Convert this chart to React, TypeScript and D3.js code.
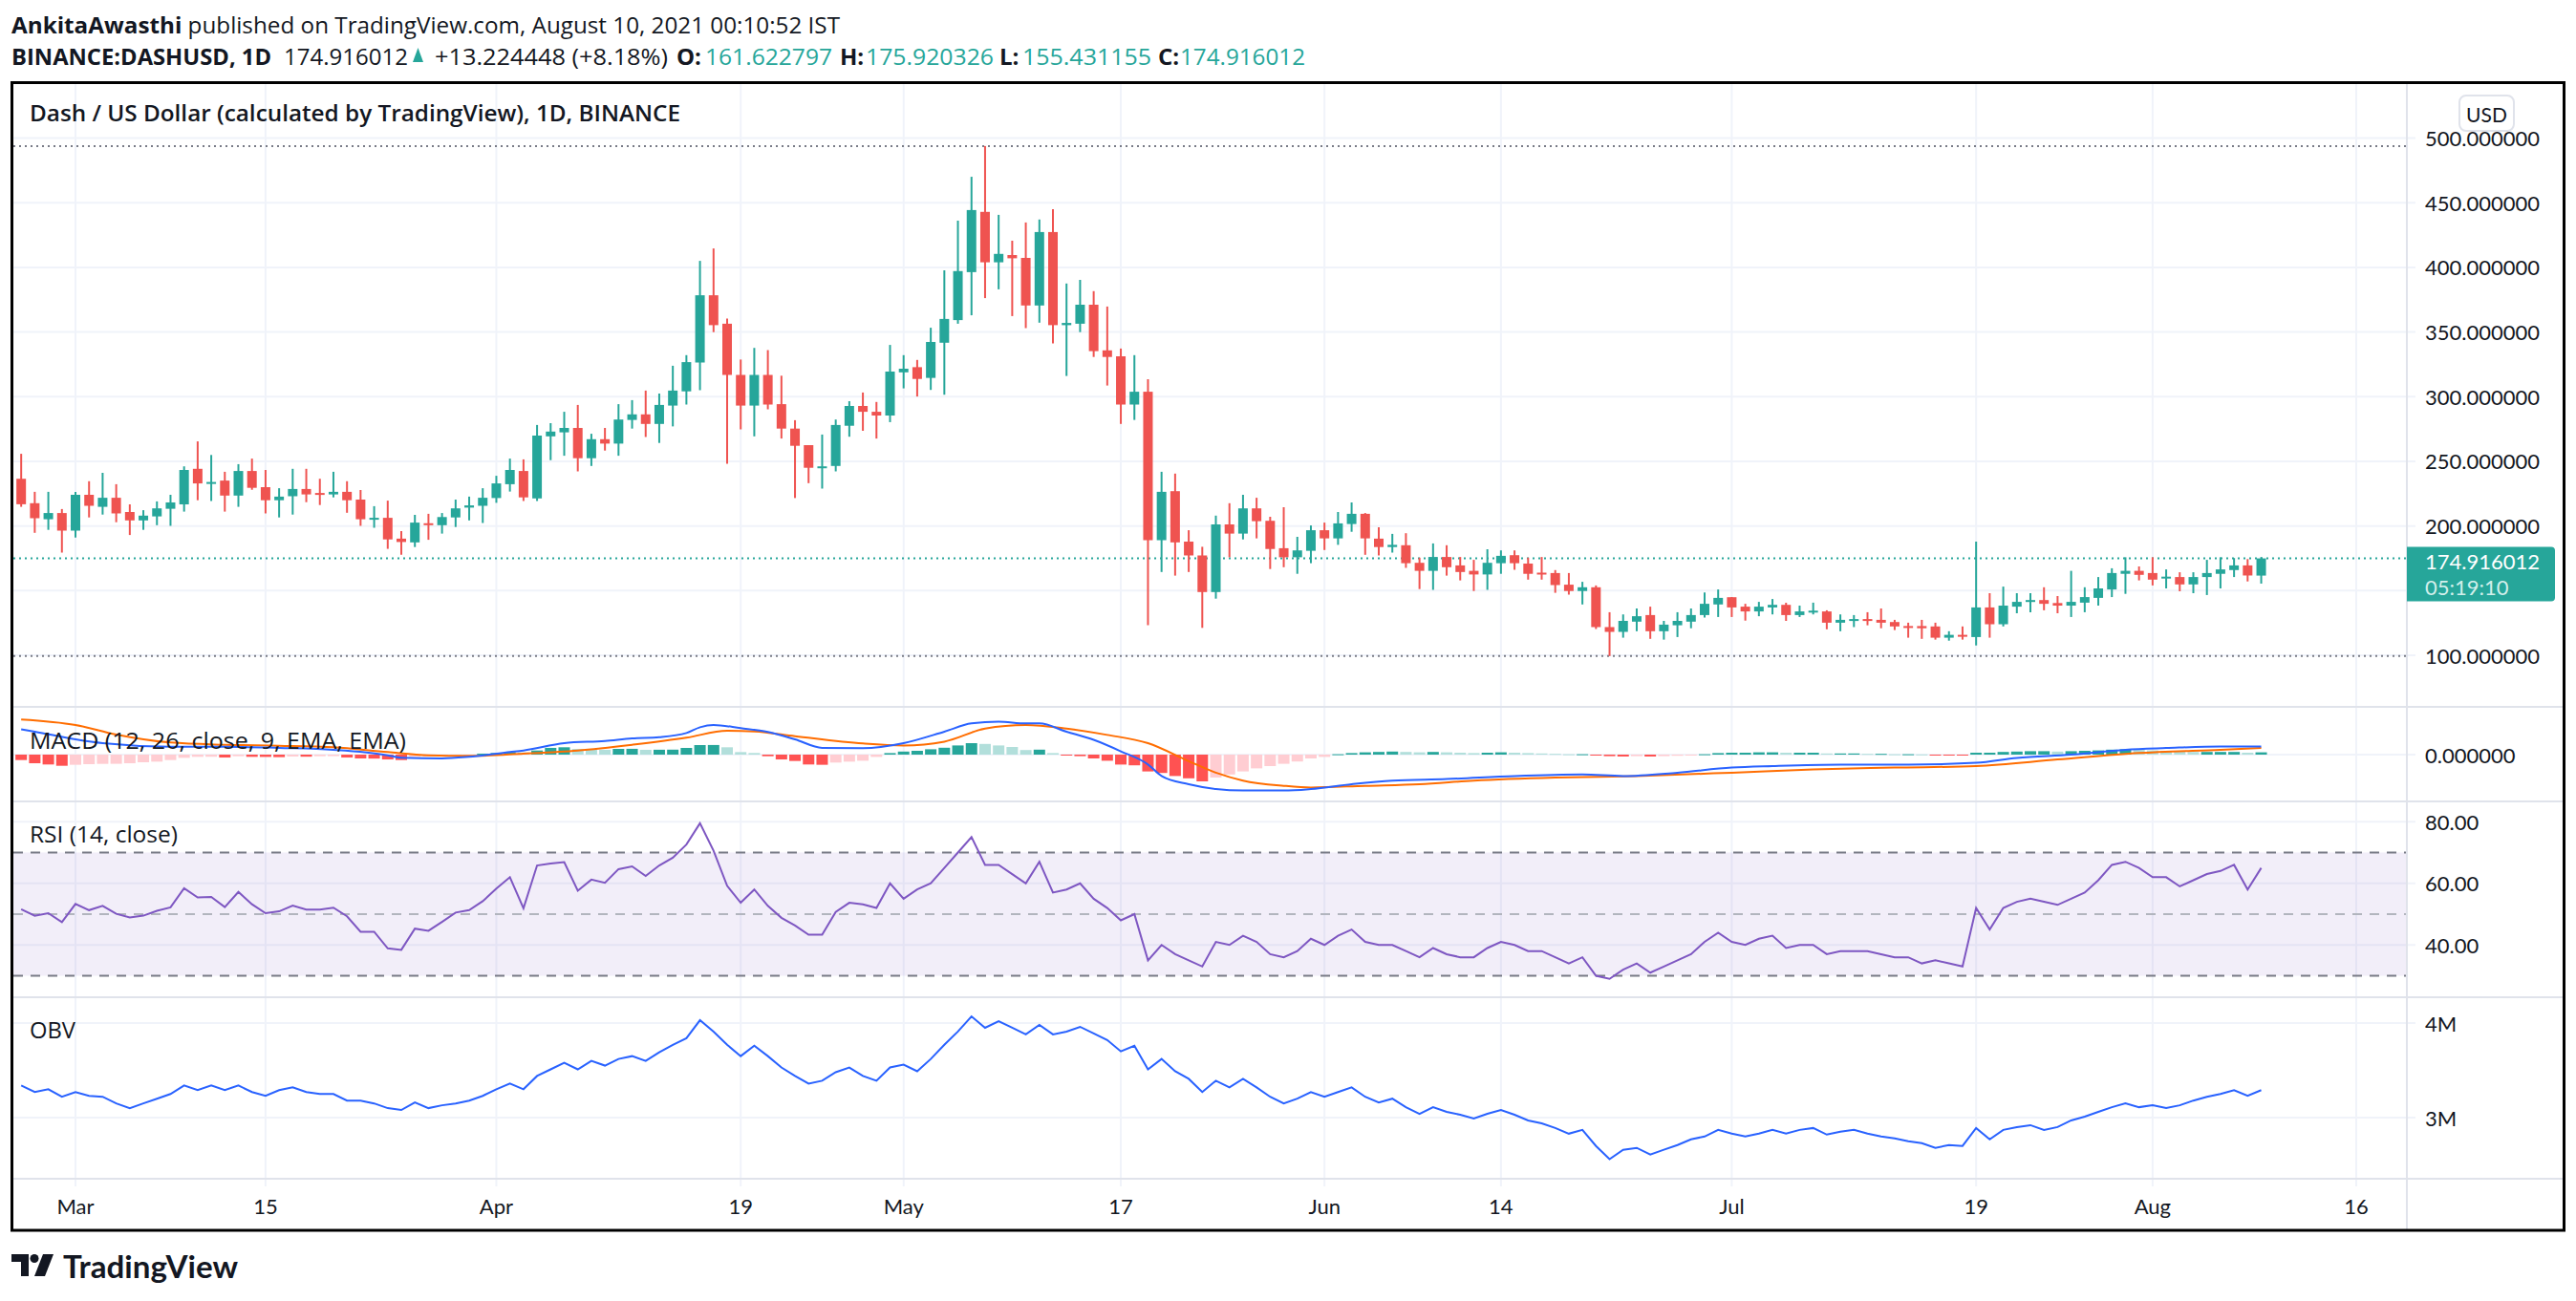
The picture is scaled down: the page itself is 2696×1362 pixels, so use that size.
import React from "react";
import * as d3 from "d3";

const W = 2696;
const H = 1362;
const FONT = "Lato, 'Open Sans', sans-serif";
const HFONT = "'Open Sans', Lato, sans-serif";
const TXT = "#131722";
const UP = "#26a69a";
const DOWN = "#ef5350";

// Daily candles from 2021-02-25 to 2021-08-09
const START_DATE = "2021-02-25";
const openP = [236.5,217.6,205.2,210.0,196.4,224.1,214.8,221.8,210.8,204.3,207.4,213.3,216.7,244.2,232.9,235.1,223.5,242.5,230.0,219.9,223.0,228.6,225.5,224.4,226.4,220.4,205.2,206.3,190.2,187.3,202.1,200.6,206.6,214.2,215.6,221.6,232.3,242.5,221.3,269.3,272.4,275.8,252.4,267.1,263.7,282.0,286.3,278.9,293.1,304.1,326.4,378.4,356.4,316.8,293.1,316.8,294.2,275.3,262.5,245.0,246.4,277.5,292.8,288.3,285.4,318.8,322.8,314.5,341.7,359.2,396.3,442.9,403.9,409.5,407.3,370.5,427.3,355.3,356.4,371.1,335.8,331.2,293.9,303.8,189.0,226.9,187.9,177.2,148.9,201.2,194.1,213.6,204.0,182.8,175.8,180.8,196.7,190.4,201.5,209.4,190.2,183.7,185.1,171.5,165.3,176.0,169.5,165.3,162.5,171.2,177.4,170.9,163.9,163.6,154.6,149.7,152.6,121.8,118.1,126.0,131.1,118.6,123.2,126.0,131.1,139.3,144.9,137.6,133.9,137.0,139.0,131.1,133.1,133.9,125.2,126.6,128.0,127.4,125.7,122.6,122.6,122.3,113.6,115.8,114.1,137.0,124.0,137.6,141.3,142.7,140.4,138.4,140.7,144.4,150.9,163.0,165.3,163.6,159.4,160.5,154.8,160.5,163.0,165.9,169.5,161.62];
const highP = [255.8,226.4,226.4,213.1,226.4,234.6,241.1,232.3,216.7,212.2,219.0,224.1,246.1,265.4,254.9,241.9,247.8,252.1,243.3,229.2,244.2,244.2,236.5,241.9,234.6,227.8,215.3,219.6,196.1,208.6,209.4,210.0,220.4,222.7,229.2,238.8,252.1,251.5,278.1,279.5,288.3,293.6,271.3,275.8,294.2,297.3,304.7,302.4,323.9,332.1,405.0,414.6,360.3,328.7,337.7,336.0,316.2,281.8,262.5,270.7,282.3,296.5,303.2,295.9,340.0,332.1,328.4,353.3,397.7,436.1,470.0,493.8,440.6,420.6,434.7,437.0,444.9,387.5,390.3,381.6,369.7,337.2,332.1,313.4,241.9,240.5,196.7,183.9,208.0,217.6,224.1,221.8,207.1,214.5,191.6,200.4,202.6,210.8,218.2,210.0,198.9,193.9,194.4,175.5,186.5,185.1,176.0,173.8,182.0,181.1,181.1,175.5,176.0,165.9,163.6,156.8,154.0,133.3,131.6,136.2,137.6,126.6,133.3,136.2,148.6,150.9,145.0,139.8,141.3,143.5,140.6,138.4,140.7,134.8,131.6,131.1,133.3,136.2,127.4,125.2,127.4,125.2,118.6,122.3,187.9,148.0,153.1,148.0,148.0,152.6,145.8,165.3,152.6,160.5,167.3,175.8,168.7,175.8,166.4,164.2,164.2,173.8,175.8,175.2,174.4,175.92];
const lowP = [214.8,194.7,197.0,179.4,191.0,206.6,208.8,202.9,193.0,197.0,200.6,200.1,211.1,219.9,219.3,211.1,214.8,228.0,209.7,206.6,208.8,218.4,216.2,222.1,210.2,200.1,198.6,182.3,177.7,183.7,189.3,194.1,199.2,204.3,202.3,217.9,226.6,219.3,219.3,250.9,254.3,242.2,246.4,258.3,254.3,275.3,268.8,264.2,277.0,293.9,305.0,349.9,248.1,274.7,269.3,290.2,267.6,221.6,233.1,228.9,242.2,269.0,273.6,267.6,280.3,306.4,300.1,305.2,301.5,356.4,362.9,376.2,383.0,362.3,353.0,357.2,341.1,316.0,349.9,330.7,308.6,278.9,282.0,123.2,164.4,161.6,164.4,121.2,143.8,175.8,189.6,190.4,166.7,168.1,163.0,171.2,181.4,185.4,195.5,177.7,177.2,179.4,167.6,151.2,150.6,161.6,157.9,149.7,150.6,163.0,166.1,158.5,158.5,148.3,146.9,139.3,120.3,99.4,113.6,118.6,112.7,112.1,114.1,120.9,129.1,129.6,129.6,126.8,130.2,131.6,126.6,129.6,131.6,120.1,118.6,121.8,123.2,120.9,119.5,113.6,112.7,112.1,111.3,112.1,107.6,113.6,122.3,132.5,133.3,134.8,132.5,129.6,133.3,138.4,145.0,147.5,157.9,154.0,151.7,149.5,148.0,146.6,151.7,160.5,157.1,155.43];
const closeP = [216.8,206.0,210.0,196.4,224.1,215.6,221.8,209.7,204.3,208.0,213.6,218.2,243.3,232.9,234.0,223.5,242.5,229.5,219.9,222.7,228.6,224.4,224.4,226.4,219.9,205.2,206.3,189.6,187.6,202.6,201.0,206.9,213.6,215.9,221.8,232.9,243.3,222.1,269.9,273.0,275.8,252.4,267.1,263.7,282.3,286.3,278.9,293.6,304.7,326.7,378.4,355.3,316.8,293.1,316.8,293.9,275.3,262.0,245.0,246.1,278.1,292.8,288.3,285.4,319.4,321.6,313.7,342.3,360.1,397.1,444.3,403.9,410.4,407.0,370.5,427.3,355.3,357.0,371.1,335.2,330.7,293.9,303.8,189.0,226.4,187.3,177.2,148.9,201.2,194.1,213.6,203.7,182.2,175.8,181.1,196.7,190.4,202.0,209.4,190.4,183.7,185.4,171.2,165.3,176.0,168.1,164.4,162.5,171.5,176.9,171.2,163.0,162.5,154.3,149.7,152.6,121.8,118.1,126.6,130.2,118.6,123.7,126.6,131.1,139.8,144.4,137.0,133.9,137.6,139.0,131.1,133.9,134.5,125.2,127.4,128.0,126.6,125.2,122.3,121.5,120.9,113.6,115.8,114.4,137.0,124.0,138.4,141.3,142.7,139.8,138.4,141.3,145.0,151.7,163.6,165.3,162.2,158.5,160.8,154.8,160.5,163.6,166.4,169.5,161.7,174.92];

// MACD histogram, daily
const macdHist = [-7.1,-11.3,-12.9,-14.6,-13.3,-12.5,-12.1,-12.0,-11.3,-10,-9.2,-7.1,-4.2,-2.9,-2.8,-3.8,-2.1,-2.9,-3.0,-3.3,-2.5,-2.7,-2.1,-2.0,-3.8,-5.0,-5.2,-6.3,-7.1,-2.9,-2.5,-1.7,-1.3,-0.8,1.3,2.1,3.3,2.9,5.4,8.8,9.6,7.5,7.1,6.3,7.5,7.6,6.3,6.4,6.5,8.75,12.5,12.6,9.6,3.3,2.1,-2.1,-6.3,-8.3,-12.9,-13.3,-10.4,-9.2,-8,-3,2,4,5,7,9,12,15,14,12,10,6,6.5,2,-1,-2,-5,-8,-13,-14,-22,-24,-28,-31,-35,-30,-26,-22,-18,-15,-12,-9,-5,-3,0.5,2,3,3.5,4,3.5,3,3.5,3,2.5,2,2.5,3,2.5,2,1.5,1,0.5,0.5,-1,-2,-2.5,-2,-2.5,-2,-1.5,-1,0.5,2,2.5,2.5,3,3,2.5,2.5,2.5,1.5,1.5,1.5,1,1,0.5,0.5,0.3,-0.5,-0.5,-0.7,2.5,2.5,3.5,4,4.5,4.5,4,4.5,5,5.5,6.5,7,6.5,5.5,5,4,3.5,3.5,3.5,3.5,2.5,3];
// MACD / signal lines: read at day offsets from START_DATE
const macdDays = [0,1,4,6,11,15,19,23,27,28,31,33,36,37,40,43,45,47,49,50,51,53,55,57,59,62,65,68,70,72,74,75,77,79,81,83,84,86,88,90,93,95,98,101,105,110,115,118,122,126,129,134,139,144,147,151,155,158,162,165];
const macdVals = [33,30,20,15,10.4,10.4,8.8,6.3,-0.8,-4.2,-5,-2.9,3.3,5.4,15,17.9,21.3,22.9,28.3,35.8,38.8,34.6,29.6,20,8.8,8.3,15,30,40.8,43,40.8,40.8,30,19.3,4.3,-12.9,-27.9,-38.7,-45,-47,-47,-45,-38.7,-34,-32,-28,-26,-28,-23.6,-17,-15,-13,-13,-10.7,-4.3,0,6.4,8.6,10.7,10.7];
const signalDays = [0,4,7,11,15,19,23,27,30,33,37,41,45,49,52,54,57,62,65,68,71,74,77,80,83,86,88,90,93,95,99,103,107,113,119,126,132,138,144,150,156,162,165];
const signalVals = [46,38.8,26.3,15.8,12.9,11.7,9.6,3.3,-0.8,-1.7,1.3,5.4,12.9,22.1,31.3,30.4,24.2,14.6,12,17,34,38.7,34,25.8,15,-8.6,-23.6,-34,-40.8,-43,-40.8,-38.7,-34,-30,-28,-23.6,-19.3,-17,-15,-6.4,2.1,6.4,8.6];

// RSI (14), daily
const rsiVals = [51.6,49.5,50.3,47.4,53.3,51.3,52.7,50.1,48.9,49.5,51.1,52.2,58.4,55.4,55.6,52.3,57.2,53.2,50.3,50.9,52.8,51.5,51.5,52.1,49.3,44.3,44.3,38.9,38.4,45.3,44.6,47.5,50.5,51.3,54.2,58.3,62.0,51.9,65.8,66.4,66.9,57.6,61.2,60.2,64.6,65.5,62.4,65.8,68.3,72.6,79.5,70.6,59.2,53.7,58.0,52.7,48.8,46.3,43.3,43.3,50.7,53.7,53.2,52,60,
55,58,60,65,70,75,66,66,63,60,67,57,58,60,55,52,48,50,35,40,37,35,33,41,40,43,41,37,36,38,42,
40,43,45,41,40,40,38,36,39,37,36,36,39,41,40,38,38,36,34,36,30,29,32,34,31,33,35,37,41,44,
41,40,42,43,39,40,40,37,38,38,38,37,36,36,34,35,34,33,52,45,52,54,55,54,53,55,57,61,66,67,65,
62,62,59,61,63,64,66,58,65];

// OBV (millions), daily
const obvVals = [3.34,3.27,3.30,3.22,3.27,3.23,3.22,3.15,3.10,3.15,3.20,3.25,3.34,3.29,3.34,3.29,3.34,3.27,3.23,3.29,3.32,3.27,3.25,3.25,3.18,3.18,3.15,3.10,3.08,3.16,3.10,3.13,3.15,3.18,3.23,3.30,3.36,3.30,3.44,3.51,3.58,3.51,3.60,3.55,3.62,3.65,3.60,3.69,3.77,3.84,4.03,3.91,3.77,3.65,3.76,3.65,3.53,3.44,3.36,3.39,3.48,3.53,3.44,3.39,3.53,3.56,3.49,3.62,3.77,3.91,4.07,3.95,4.02,3.95,3.88,3.98,3.88,3.91,3.96,3.89,3.82,3.70,3.76,3.51,3.62,3.49,3.41,3.27,3.39,3.32,3.41,3.32,3.22,3.15,3.20,3.27,3.22,3.27,3.32,3.22,3.16,3.20,3.11,3.04,3.11,3.06,3.03,2.99,3.04,3.08,3.03,2.97,2.94,2.89,2.83,2.87,2.70,2.56,2.66,2.68,2.61,2.66,2.71,2.77,2.80,2.87,2.83,2.80,2.83,2.87,2.83,2.87,2.89,2.82,2.85,2.87,2.83,2.80,2.78,2.75,2.73,2.68,2.71,2.70,2.89,2.77,2.87,2.90,2.92,2.87,2.90,2.97,3.01,3.06,3.11,3.15,3.11,3.13,3.10,3.13,3.18,3.22,3.25,3.29,3.23,3.29];

const priceTicks = [100, 150, 200, 250, 300, 350, 400, 450, 500];
const hiddenPriceLabels = [150];
const rsiTicks = [40, 60, 80];
const obvTicks = [3, 4];
const timeTicks = [
  ["2021-03-01", "Mar"], ["2021-03-15", "15"], ["2021-04-01", "Apr"], ["2021-04-19", "19"],
  ["2021-05-01", "May"], ["2021-05-17", "17"], ["2021-06-01", "Jun"], ["2021-06-14", "14"],
  ["2021-07-01", "Jul"], ["2021-07-19", "19"], ["2021-08-01", "Aug"], ["2021-08-16", "16"],
];
const lastPrice = 174.916012;
const countdown = "05:19:10";
const rangeHigh = 493.8;
const rangeLow = 99.4;

const parse = d3.utcParse("%Y-%m-%d");
const t0 = parse(START_DATE)!;
const dateAt = (i: number) => d3.utcDay.offset(t0, i);

// layout
const L = 14, R = 2519, FR = 2683.5, FB = 1288;
const PANE = { price: [88, 740], macd: [740, 839], rsi: [839, 1044], obv: [1044, 1234] };

export default function App() {
  const x = d3.scaleUtc().domain([parse("2021-03-01")!, parse("2021-08-16")!]).range([79, 2466]);
  const y = d3.scaleLinear().domain([100, 500]).range([686, 144.5]);
  const ym = d3.scaleLinear().domain([-60, 60]).range([838, 742]);
  const yr = d3.scaleLinear().domain([30, 70]).range([1021.5, 892.5]);
  const yo = d3.scaleLinear().domain([3, 4]).range([1170, 1071]);

  const n = closeP.length;
  const idx = d3.range(n);

  const macdPath = d3.line<number>().x((d) => x(dateAt(macdDays[d]))).y((d) => ym(macdVals[d])).curve(d3.curveMonotoneX)(d3.range(macdDays.length));
  const sigPath = d3.line<number>().x((d) => x(dateAt(signalDays[d]))).y((d) => ym(signalVals[d])).curve(d3.curveMonotoneX)(d3.range(signalDays.length));
  const rsiPath = d3.line<number>().x((d) => x(dateAt(d))).y((d) => yr(rsiVals[d]))(d3.range(rsiVals.length));
  const obvPath = d3.line<number>().x((d) => x(dateAt(d))).y((d) => yo(obvVals[d]))(d3.range(obvVals.length));

  const histColor = (i: number) => {
    const v = macdHist[i];
    const p = i > 0 ? macdHist[i - 1] : v;
    if (v >= 0) return v >= p ? "#26a69a" : "#b2dfdb";
    return v <= p ? "#ff5252" : "#ffcdd2";
  };

  const yLast = y(lastPrice);
  const gridC = "#f0f3fa";
  const sepC = "#e0e3eb";
  const adj = "spacingAndGlyphs";

  return (
    <svg width={W} height={H} style={{ position: "absolute", left: 0, top: 0, background: "#fff" }} fontFamily={FONT}>
      <defs>
        <clipPath id="cp-price"><rect x={L} y={PANE.price[0]} width={R - L} height={PANE.price[1] - PANE.price[0]} /></clipPath>
        <clipPath id="cp-macd"><rect x={L} y={PANE.macd[0] + 1} width={R - L} height={PANE.macd[1] - PANE.macd[0] - 2} /></clipPath>
        <clipPath id="cp-rsi"><rect x={L} y={PANE.rsi[0] + 1} width={R - L} height={PANE.rsi[1] - PANE.rsi[0] - 2} /></clipPath>
        <clipPath id="cp-obv"><rect x={L} y={PANE.obv[0] + 1} width={R - L} height={PANE.obv[1] - PANE.obv[0] - 2} /></clipPath>
      </defs>
      <rect x={0} y={0} width={W} height={H} fill="#fff" />

      {/* header */}
      <g fontFamily={HFONT}>
        <text x={12} y={25} fontSize={24} fill={TXT} dominantBaseline="central" textLength={867} lengthAdjust={adj}>
          <tspan fontWeight={700}>AnkitaAwasthi</tspan>
          <tspan> published on TradingView.com, August 10, 2021 00:10:52 IST</tspan>
        </text>
        <g fontSize={24} dominantBaseline="central">
          <text x={12} y={58} fill={TXT} fontWeight={700} textLength={272} lengthAdjust={adj}>BINANCE:DASHUSD, 1D</text>
          <text x={297} y={58} fill={TXT} textLength={130} lengthAdjust={adj}>174.916012</text>
          <path d="M432 65L443 65L437.5 50Z" fill={UP} />
          <text x={455} y={58} fill={TXT} textLength={244} lengthAdjust={adj}>+13.224448 (+8.18%)</text>
          <text x={708} y={58} fill={TXT} fontWeight={700}>O:</text>
          <text x={738} y={58} fill={UP} textLength={133} lengthAdjust={adj}>161.622797</text>
          <text x={879} y={58} fill={TXT} fontWeight={700}>H:</text>
          <text x={906} y={58} fill={UP} textLength={134} lengthAdjust={adj}>175.920326</text>
          <text x={1046} y={58} fill={TXT} fontWeight={700}>L:</text>
          <text x={1070} y={58} fill={UP} textLength={135} lengthAdjust={adj}>155.431155</text>
          <text x={1212} y={58} fill={TXT} fontWeight={700}>C:</text>
          <text x={1235} y={58} fill={UP} textLength={131} lengthAdjust={adj}>174.916012</text>
        </g>
      </g>

      {/* vertical grid */}
      {timeTicks.map(([d]) => (
        <line key={d} x1={x(parse(d)!)} x2={x(parse(d)!)} y1={PANE.price[0]} y2={1242} stroke={gridC} strokeWidth={2} />
      ))}
      {/* horizontal grid */}
      {priceTicks.map((v) => (
        <line key={v} x1={L} x2={R + 9} y1={y(v)} y2={y(v)} stroke={gridC} strokeWidth={2} />
      ))}
      <line x1={L} x2={R + 9} y1={ym(0)} y2={ym(0)} stroke={gridC} strokeWidth={2} />
      {rsiTicks.map((v) => (
        <line key={v} x1={L} x2={R + 9} y1={yr(v)} y2={yr(v)} stroke={gridC} strokeWidth={2} />
      ))}
      {obvTicks.map((v) => (
        <line key={v} x1={L} x2={R + 9} y1={yo(v)} y2={yo(v)} stroke={gridC} strokeWidth={2} />
      ))}

      {/* price pane */}
      <text x={31} y={118} fontSize={23} fontWeight={600} fill={TXT} fontFamily={HFONT} dominantBaseline="central" textLength={681} lengthAdjust={adj}>
        Dash / US Dollar (calculated by TradingView), 1D, BINANCE
      </text>
      <g clipPath="url(#cp-price)">
        <line x1={L} x2={R} y1={y(rangeHigh)} y2={y(rangeHigh)} stroke="#787b86" strokeWidth={2} strokeDasharray="2 4" />
        <line x1={L} x2={R} y1={y(rangeLow)} y2={y(rangeLow)} stroke="#787b86" strokeWidth={2} strokeDasharray="2 4" />
        <line x1={L} x2={R} y1={yLast} y2={yLast} stroke={UP} strokeWidth={2} strokeDasharray="2 4" />
        {idx.map((i) => {
          const cx = x(dateAt(i));
          const o = openP[i], c = closeP[i];
          const col = c >= o ? UP : DOWN;
          const top = y(Math.max(o, c));
          const bh = Math.max(2, Math.abs(y(o) - y(c)));
          return (
            <g key={i}>
              <line x1={cx} x2={cx} y1={y(highP[i])} y2={y(lowP[i])} stroke={col} strokeWidth={2} />
              <rect x={cx - 5} y={top} width={10} height={bh} fill={col} />
            </g>
          );
        })}
      </g>

      {/* MACD pane */}
      <g clipPath="url(#cp-macd)">
        {idx.map((i) => {
          const cx = x(dateAt(i));
          const v = macdHist[i];
          const y0 = ym(0), y1 = ym(v);
          return <rect key={i} x={cx - 6} width={12} y={Math.min(y0, y1)} height={Math.max(1, Math.abs(y1 - y0))} fill={histColor(i)} />;
        })}
        <path d={sigPath!} fill="none" stroke="#ff6d00" strokeWidth={2} />
        <path d={macdPath!} fill="none" stroke="#2962ff" strokeWidth={2} />
      </g>
      <text x={31} y={775} fontSize={23} fill={TXT} fontFamily={HFONT} dominantBaseline="central" textLength={394} lengthAdjust={adj}>MACD (12, 26, close, 9, EMA, EMA)</text>

      {/* RSI pane */}
      <rect x={L} y={yr(70)} width={R - L} height={yr(30) - yr(70)} fill="#7e57c2" fillOpacity={0.1} />
      <line x1={L} x2={R} y1={yr(70)} y2={yr(70)} stroke="#787b86" strokeWidth={2} strokeDasharray="10 8" />
      <line x1={L} x2={R} y1={yr(50)} y2={yr(50)} stroke="#b2b5be" strokeWidth={2} strokeDasharray="10 8" />
      <line x1={L} x2={R} y1={yr(30)} y2={yr(30)} stroke="#787b86" strokeWidth={2} strokeDasharray="10 8" />
      <g clipPath="url(#cp-rsi)">
        <path d={rsiPath!} fill="none" stroke="#7e57c2" strokeWidth={2} />
      </g>
      <text x={31} y={873} fontSize={23} fill={TXT} fontFamily={HFONT} dominantBaseline="central" textLength={155} lengthAdjust={adj}>RSI (14, close)</text>

      {/* OBV pane */}
      <g clipPath="url(#cp-obv)">
        <path d={obvPath!} fill="none" stroke="#2962ff" strokeWidth={2} />
      </g>
      <text x={31} y={1078} fontSize={23} fill={TXT} fontFamily={HFONT} dominantBaseline="central" textLength={48} lengthAdjust={adj}>OBV</text>

      {/* separators */}
      {[PANE.macd[0], PANE.rsi[0], PANE.obv[0], PANE.obv[1]].map((yy) => (
        <line key={yy} x1={L - 1} x2={FR} y1={yy} y2={yy} stroke={sepC} strokeWidth={2} />
      ))}
      <line x1={R} x2={R} y1={87} y2={FB} stroke={sepC} strokeWidth={2} />

      {/* price axis labels */}
      <g fontSize={22} fill={TXT} dominantBaseline="central">
        {priceTicks.filter((v) => !hiddenPriceLabels.includes(v)).map((v) => (
          <text key={v} x={2538} y={y(v)}>{v.toFixed(6)}</text>
        ))}
        <text x={2538} y={ym(0)}>{(0).toFixed(6)}</text>
        {rsiTicks.map((v) => (
          <text key={v} x={2538} y={yr(v)}>{v.toFixed(2)}</text>
        ))}
        {obvTicks.map((v) => (
          <text key={v} x={2538} y={yo(v)}>{`${v}M`}</text>
        ))}
      </g>
      {/* last price label */}
      <path d={`M${R} ${yLast - 12}h151a4 4 0 0 1 4 4v49a4 4 0 0 1 -4 4h-151z`} fill={UP} />
      <text x={2538} y={yLast + 3} fontSize={22} fill="#fff" dominantBaseline="central">{lastPrice.toFixed(6)}</text>
      <text x={2538} y={yLast + 30} fontSize={22} fill="#d2efeb" dominantBaseline="central">{countdown}</text>
      {/* USD button */}
      <rect x={2574} y={100} width={57} height={37} rx={7} fill="#fff" stroke={sepC} strokeWidth={2} />
      <text x={2602.5} y={119} fontSize={21} fill={TXT} textAnchor="middle" dominantBaseline="central">USD</text>

      {/* time axis */}
      <g fontSize={22} fill={TXT} textAnchor="middle" dominantBaseline="central">
        {timeTicks.map(([d, lab]) => (
          <text key={d} x={x(parse(d)!)} y={1262}>{lab}</text>
        ))}
      </g>

      {/* frame */}
      <rect x={12.5} y={86.5} width={FR - 12.5} height={FB - 86.5} fill="none" stroke="#000" strokeWidth={3} />

      {/* logo */}
      <g fill={TXT}>
        <path d="M12 1313h18v23h-8v-15h-10z" />
        <circle cx={36} cy={1317.5} r={4.5} />
        <path d="M45 1313h11l-9 23h-11z" />
        <text x={66} y={1325} fontSize={32} fontWeight={700} dominantBaseline="central" textLength={183} lengthAdjust={adj}>TradingView</text>
      </g>
    </svg>
  );
}
